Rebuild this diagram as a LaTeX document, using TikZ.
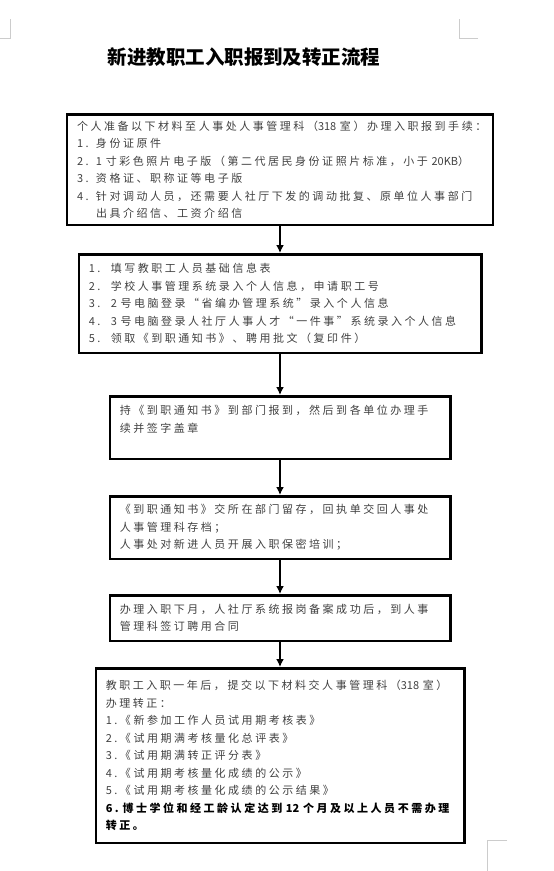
\documentclass[tikz,border=0pt]{standalone}
\usepackage{fontspec}
\setmainfont{Noto Sans CJK SC}[LetterSpace=23]
\newfontfamily\titlefont{Noto Sans CJK SC}
\newfontfamily\numfont{Noto Sans CJK SC}
\usepackage{tikz}
\usetikzlibrary{positioning, arrows.meta}

\newcommand{\numitem}[2]{\makebox[#1][l]{#2}}
\newcommand{\tightnum}[1]{{\numfont #1}}

\begin{document}
\begin{tikzpicture}[node distance=30pt,
        every node/.style={font=\fontsize{11}{17.5}\selectfont, text=black!75},
        procbox/.style={draw=black, line width=2.5pt, rectangle, align=left, inner xsep=10pt, inner ysep=3pt},
        flowarrow/.style={-{Latex[length=8pt,width=8pt]}, line width=2.2pt},
        pagemark/.style={draw=black!20, line width=0.6pt}]
        \useasboundingbox (0,0) rectangle (554pt,-871pt);

        % page corner marks
        \draw[pagemark] (0pt,-38pt) -- (10pt,-38pt) -- (10pt,-19pt);
        \draw[pagemark] (478pt,-38pt) -- (459pt,-38pt) -- (459pt,-19pt);
        \draw[pagemark] (507pt,-840pt) -- (487pt,-840pt) -- (487pt,-871pt);

        \node[font=\titlefont\bfseries\fontsize{19.5}{22}\selectfont, text=black] (title) at (244pt,-57pt) {新进教职工入职报到及转正流程};

        \node[procbox, text width=406pt, minimum height=110.5pt] (apply) at (280pt,-169.5pt)
            {个人准备以下材料至人事处人事管理科（\tightnum{318}~室）办理入职报到手续：\\
             \numitem{19pt}{1.}身份证原件\\
             \numitem{19pt}{2.}1~寸彩色照片电子版（第二代居民身份证照片标准，小于~\tightnum{20KB}）\\
             \numitem{19pt}{3.}资格证、职称证等电子版\\
             \numitem{19pt}{4.}针对调动人员，还需要人社厅下发的调动批复、原单位人事部门\\
             \hspace*{19pt}出具介绍信、工资介绍信};

        \node[procbox, text width=382.5pt, minimum height=98.5pt, below=27pt of apply] (fill)
            {\numitem{22pt}{1.}填写教职工人员基础信息表\\
             \numitem{22pt}{2.}学校人事管理系统录入个人信息，申请职工号\\
             \numitem{22pt}{3.}2~号电脑登录“省编办管理系统”录入个人信息\\
             \numitem{22pt}{4.}3~号电脑登录人社厅人事人才“一件事”系统录入个人信息\\
             \numitem{22pt}{5.}领取《到职通知书》、聘用批文（复印件）};

        \node[procbox, text width=320.5pt, minimum height=62.5pt, below=41pt of fill] (report)
            {持《到职通知书》到部门报到，然后到各单位办理手\\
             续并签字盖章\\ \mbox{}};

        \node[procbox, text width=320.5pt, minimum height=62.5pt, below=35pt of report] (archive)
            {《到职通知书》交所在部门留存，回执单交回人事处\\
             人事管理科存档；\\
             人事处对新进人员开展入职保密培训；};

        \node[procbox, text width=320.5pt, minimum height=45.5pt, below=34pt of archive] (contract)
            {办理入职下月，人社厅系统报岗备案成功后，到人事\\
             管理科签订聘用合同};

        \node[procbox, text width=348.5pt, minimum height=174.5pt, below=25pt of contract] (regular)
            {教职工入职一年后，提交以下材料交人事管理科（\tightnum{318}~室）\\
             办理转正：\\
             1.《新参加工作人员试用期考核表》\\
             2.《试用期满考核量化总评表》\\
             3.《试用期满转正评分表》\\
             4.《试用期考核量化成绩的公示》\\
             5.《试用期考核量化成绩的公示结果》\\
             {\color{black}\bfseries 6.~博士学位和经工龄认定达到~\tightnum{12}~个月及以上人员不需办理\\
             转正。}};

        \draw[flowarrow] (apply) -- (fill);
        \draw[flowarrow] (fill) -- (report);
        \draw[flowarrow] (report) -- (archive);
        \draw[flowarrow] (archive) -- (contract);
        \draw[flowarrow] (contract) -- (regular);
    \end{tikzpicture}
\end{document}
